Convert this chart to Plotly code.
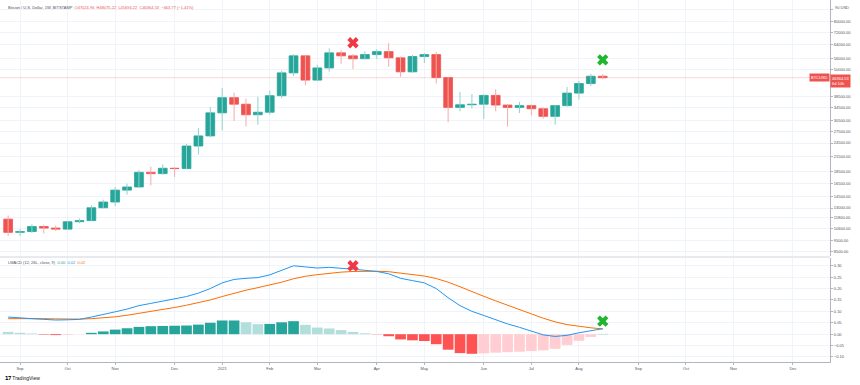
import math
import plotly.graph_objects as go

# ---------------- data ----------------
week_dates = [
    "2020-08-31", "2020-09-07", "2020-09-14", "2020-09-21", "2020-09-28",
    "2020-10-05", "2020-10-12", "2020-10-19", "2020-10-26", "2020-11-02",
    "2020-11-09", "2020-11-16", "2020-11-23", "2020-11-30", "2020-12-07",
    "2020-12-14", "2020-12-21", "2020-12-28", "2021-01-04", "2021-01-11",
    "2021-01-18", "2021-01-25", "2021-02-01", "2021-02-08", "2021-02-15",
    "2021-02-22", "2021-03-01", "2021-03-08", "2021-03-15", "2021-03-22",
    "2021-03-29", "2021-04-05", "2021-04-12", "2021-04-19", "2021-04-26",
    "2021-05-03", "2021-05-10", "2021-05-17", "2021-05-24", "2021-05-31",
    "2021-06-07", "2021-06-14", "2021-06-21", "2021-06-28", "2021-07-05",
    "2021-07-12", "2021-07-19", "2021-07-26", "2021-08-02", "2021-08-09",
    "2021-08-16",
]
opens = [11660, 10250, 10330, 10850, 10690, 10580, 11370, 11500, 13030, 13780,
         15480, 15960, 18410, 18180, 19160, 19100, 23800, 26270, 32900, 38150,
         35800, 32300, 33100, 38900, 48600, 57400, 45300, 51000, 59100, 57400,
         55800, 58100, 59800, 56300, 49100, 57000, 58100, 46400, 34700, 35600,
         35800, 39000, 35500, 34700, 35300, 34250, 31800, 35300, 39900, 43800,
         47024.96]
highs = [12090, 10600, 11100, 11050, 10950, 11490, 11720, 13350, 14100, 15960,
         16480, 18800, 19480, 19900, 19420, 24300, 28400, 34800, 42000, 40100,
         37800, 38500, 40900, 49700, 58300, 57500, 52600, 61700, 60600, 58400,
         60000, 61200, 64900, 57000, 57900, 59000, 59500, 46600, 40400, 39500,
         39400, 41400, 35900, 36600, 35700, 34700, 35400, 42300, 44900, 48100,
         48075.22]
lows = [9880, 9880, 10200, 10130, 10380, 10530, 11200, 11390, 12960, 13220,
        14800, 15800, 16200, 18000, 17600, 19000, 21900, 25900, 27700, 30400,
        28800, 29300, 32300, 37900, 47100, 43000, 44900, 49200, 53100, 50400,
        55500, 55700, 51600, 46800, 48700, 53500, 43800, 30000, 33400, 34300,
        31000, 33400, 28800, 32800, 32100, 31100, 29300, 35000, 37500, 42800,
        45694.22]
closes = [10250, 10330, 10850, 10690, 10580, 11370, 11500, 13030, 13780, 15480,
          15960, 18410, 18180, 19160, 19100, 23800, 26270, 32900, 38150, 35800,
          32300, 33100, 38900, 48600, 57400, 45300, 51000, 59100, 57400, 55800,
          58100, 59800, 56300, 49100, 57000, 58100, 46400, 34700, 35600, 35800,
          39000, 35500, 34700, 35300, 34250, 31800, 35300, 39900, 43800, 47028.30,
          46364.53]

macd_line = [0.075, 0.070, 0.068, 0.065, 0.062, 0.063, 0.065, 0.075, 0.085, 0.098,
             0.110, 0.125, 0.135, 0.145, 0.152, 0.165, 0.180, 0.200, 0.225, 0.240,
             0.245, 0.248, 0.260, 0.280, 0.300, 0.295, 0.290, 0.293, 0.290, 0.285,
             0.280, 0.275, 0.265, 0.245, 0.235, 0.225, 0.200, 0.160, 0.125, 0.100,
             0.082, 0.062, 0.045, 0.030, 0.015, -0.003, -0.010, -0.005, 0.006, 0.016,
             0.024]
signal_line = [0.068, 0.069, 0.069, 0.068, 0.067, 0.066, 0.066, 0.068, 0.071, 0.076,
               0.083, 0.091, 0.100, 0.109, 0.117, 0.127, 0.138, 0.150, 0.165, 0.180,
               0.193, 0.204, 0.215, 0.228, 0.243, 0.254, 0.261, 0.268, 0.272, 0.275,
               0.276, 0.276, 0.274, 0.268, 0.262, 0.255, 0.244, 0.228, 0.208, 0.186,
               0.166, 0.146, 0.126, 0.107, 0.089, 0.070, 0.054, 0.042, 0.034, 0.028,
               0.023]
histogram_before_first = 0.013
histogram = [0.010, 0.006, 0.003, -0.002, -0.004, -0.003, 0.000, 0.006, 0.012, 0.020,
             0.026, 0.032, 0.035, 0.036, 0.037, 0.038, 0.042, 0.050, 0.060, 0.060,
             0.052, 0.044, 0.045, 0.052, 0.057, 0.041, 0.029, 0.025, 0.018, 0.010,
             0.004, -0.001, -0.009, -0.023, -0.027, -0.030, -0.044, -0.068, -0.083, -0.086,
             -0.084, -0.081, -0.079, -0.077, -0.074, -0.071, -0.064, -0.047, -0.029, -0.012,
             0.001]

month_tick_dates = ["2020-09-07", "2020-10-05", "2020-11-02", "2020-12-07", "2021-01-04",
                    "2021-02-01", "2021-03-01", "2021-04-05", "2021-05-03", "2021-06-07",
                    "2021-07-05", "2021-08-02", "2021-09-06", "2021-10-04", "2021-11-01",
                    "2021-12-06"]
month_tick_labels = ["Sep", "Oct", "Nov", "Dec", "2021", "Feb", "Mar", "Apr", "May", "Jun",
                     "Jul", "Aug", "Sep", "Oct", "Nov", "Dec"]
price_ticks = [8500, 9500, 10600, 11800, 13000, 14500, 16500, 18500, 21500, 24500,
               27500, 30500, 34500, 38500, 50000, 56000, 64000, 72000, 80000, 90000]
macd_ticks = [-0.10, -0.05, 0.00, 0.05, 0.10, 0.15, 0.20, 0.25, 0.30]

sell_signal_date = ["2021-03-22"]
sell_signal_price = [65200]
sell_signal_macd = [0.300]
buy_signal_date = ["2021-08-16"]
buy_signal_price = [55200]
buy_signal_macd = [0.057]

header_symbol = "Bitcoin / U.S. Dollar, 1W, BITSTAMP"
header_ohlc = "O47024.96  H48075.22  L45694.22  C46364.53  −663.77 (−1.41%)"

# ---------------- styling ----------------
UP = "#26a69a"
DOWN = "#ef5350"
UP_WICK = "#8fd3cb"
DOWN_WICK = "#f7aaa8"
GRID = "#f0f3fa"
AXIS = "#b2b5be"
TXT = "#131722"
LBL = "#50535e"
FONT = "Liberation Sans, Arial, sans-serif"
W, H = 860, 385
PLOT_H = 362
PLOT_W = 830
WEEK_MS = 7 * 24 * 3600 * 1000


def fmt_minus(v, nd):
    return f"{v:.{nd}f}".replace("-", "−")


is_up = [c >= o for o, c in zip(opens, closes)]

# wick polylines built from the OHLC arrays
wx_up, wy_up, wx_dn, wy_dn = [], [], [], []
for d, hi, lo, up in zip(week_dates, highs, lows, is_up):
    if up:
        wx_up += [d, d, None]
        wy_up += [lo, hi, None]
    else:
        wx_dn += [d, d, None]
        wy_dn += [lo, hi, None]

body_base = [min(o, c) for o, c in zip(opens, closes)]
body_len = [abs(c - o) for o, c in zip(opens, closes)]
body_col = [UP if u else DOWN for u in is_up]

hist_colors = []
for i, h in enumerate(histogram):
    prev = histogram[i - 1] if i > 0 else histogram_before_first
    if h >= 0:
        hist_colors.append("#26a69a" if h >= prev else "#b2dfdb")
    else:
        hist_colors.append("#ffcdd2" if h > prev else "#ff5252")

fig = go.Figure()

# last price line
fig.add_trace(go.Scatter(
    x=["2020-08-20", "2021-12-31"], y=[closes[-1], closes[-1]],
    mode="lines", line=dict(color="rgba(239,83,80,0.22)", width=1),
    xaxis="x", yaxis="y", showlegend=False, hoverinfo="skip"))

fig.add_trace(go.Scatter(x=wx_up, y=wy_up, mode="lines", line=dict(color=UP_WICK, width=1),
                         xaxis="x", yaxis="y", showlegend=False, hoverinfo="skip"))
fig.add_trace(go.Scatter(x=wx_dn, y=wy_dn, mode="lines", line=dict(color=DOWN_WICK, width=1),
                         xaxis="x", yaxis="y", showlegend=False, hoverinfo="skip"))
fig.add_trace(go.Bar(
    x=week_dates, y=body_len, base=body_base, width=WEEK_MS * 0.74,
    marker=dict(color=body_col, line=dict(color=body_col, width=0.8)),
    xaxis="x", yaxis="y", showlegend=False, hoverinfo="skip"))

fig.add_trace(go.Scatter(
    x=sell_signal_date, y=sell_signal_price, mode="markers",
    marker=dict(symbol="x", size=10, color="#f23645", line=dict(width=0)),
    xaxis="x", yaxis="y", showlegend=False, hoverinfo="skip"))
fig.add_trace(go.Scatter(
    x=buy_signal_date, y=buy_signal_price, mode="markers",
    marker=dict(symbol="x", size=10, color="#22b530", line=dict(width=0)),
    xaxis="x", yaxis="y", showlegend=False, hoverinfo="skip"))

# MACD pane
fig.add_trace(go.Bar(
    x=week_dates, y=histogram, width=WEEK_MS * 0.9,
    marker=dict(color=hist_colors, line=dict(width=0)),
    xaxis="x", yaxis="y2", showlegend=False, hoverinfo="skip"))
fig.add_trace(go.Scatter(
    x=week_dates, y=signal_line, mode="lines", line=dict(color="#ff6d00", width=1),
    xaxis="x", yaxis="y2", showlegend=False, hoverinfo="skip"))
fig.add_trace(go.Scatter(
    x=week_dates, y=macd_line, mode="lines", line=dict(color="#2196f3", width=1),
    xaxis="x", yaxis="y2", showlegend=False, hoverinfo="skip"))
fig.add_trace(go.Scatter(
    x=sell_signal_date, y=sell_signal_macd, mode="markers",
    marker=dict(symbol="x", size=10, color="#f23645", line=dict(width=0)),
    xaxis="x", yaxis="y2", showlegend=False, hoverinfo="skip"))
fig.add_trace(go.Scatter(
    x=buy_signal_date, y=buy_signal_macd, mode="markers",
    marker=dict(symbol="x", size=10, color="#22b530", line=dict(width=0)),
    xaxis="x", yaxis="y2", showlegend=False, hoverinfo="skip"))

main_dom = [1 - 256 / PLOT_H, 1]
macd_dom = [0, 104 / PLOT_H]

price_ticktext = [f"{v:.2f}" for v in price_ticks]
price_ticktext[-1] = ""  # top label is covered by the currency badge

fig.update_layout(
    width=W, height=H,
    margin=dict(l=0, r=W - PLOT_W, t=0, b=H - PLOT_H),
    paper_bgcolor="white", plot_bgcolor="white",
    font=dict(family=FONT, size=4, color=TXT),
    barmode="overlay",
    xaxis=dict(
        type="date", domain=[0, 1], anchor="y2",
        range=["2020-08-26 05:00", "2021-12-27 19:00"],
        tickvals=month_tick_dates, ticktext=month_tick_labels,
        tickfont=dict(size=4, color=LBL),
        ticks="outside", ticklen=2, tickcolor=AXIS,
        showgrid=True, gridcolor=GRID, gridwidth=1,
        showline=True, linecolor=AXIS, linewidth=1,
        zeroline=False, fixedrange=True,
    ),
    yaxis=dict(
        type="log", domain=main_dom, anchor="x", side="right",
        range=[3.9105, 4.9955],
        tickvals=price_ticks, ticktext=price_ticktext,
        tickfont=dict(size=4, color=LBL),
        ticks="outside", ticklen=2, tickcolor=AXIS,
        showgrid=True, gridcolor=GRID, gridwidth=1,
        showline=True, linecolor=AXIS, linewidth=1, zeroline=False,
    ),
    yaxis2=dict(
        domain=macd_dom, anchor="x", side="right",
        range=[-0.122, 0.334],
        tickvals=macd_ticks, ticktext=[fmt_minus(v, 2) for v in macd_ticks],
        tickfont=dict(size=4, color=LBL),
        ticks="outside", ticklen=2, tickcolor=AXIS,
        showgrid=True, gridcolor=GRID, gridwidth=1,
        showline=True, linecolor=AXIS, linewidth=1, zeroline=False,
    ),
)

# pane separator
fig.add_shape(type="line", xref="paper", yref="paper",
              x0=0, x1=1, y0=1 - 257 / PLOT_H, y1=1 - 257 / PLOT_H,
              line=dict(color="#d1d4dc", width=1))


def py(p):
    return 1 - p / PLOT_H


ann = []
ann.append(dict(xref="paper", yref="paper", x=6 / PLOT_W, y=py(8), xanchor="left", yanchor="middle",
                text=f"<span style='color:{LBL}'>{header_symbol}</span>  "
                     f"<span style='color:{DOWN}'>{header_ohlc}</span>",
                showarrow=False, font=dict(size=4)))
ann.append(dict(xref="paper", yref="paper", x=6 / PLOT_W, y=py(262), xanchor="left", yanchor="middle",
                text=f"<span style='color:{LBL}'>LMACD (12, 26L, close, 9)</span>  "
                     f"<span style='color:{UP}'>{histogram[-1]:.2f}</span>  "
                     f"<span style='color:#2196f3'>{macd_line[-1]:.2f}</span>  "
                     f"<span style='color:#ff6d00'>{signal_line[-1]:.2f}</span>",
                showarrow=False, font=dict(size=4)))
ann.append(dict(xref="paper", yref="paper", x=3 / PLOT_W, y=py(378), xanchor="left", yanchor="middle",
                text="<b>𝟭𝟳</b> TradingView", showarrow=False, font=dict(size=5, color=TXT)))
# last price labels
ann.append(dict(xref="paper", yref="y", x=1.0, y=math.log10(closes[-1]), xanchor="right", yanchor="middle",
                text="BTCUSD", showarrow=False, bgcolor=DOWN, borderpad=1,
                font=dict(size=4, color="white")))
ann.append(dict(xref="paper", yref="y", x=1.0, y=math.log10(closes[-1]), xanchor="left", yanchor="top",
                yshift=4, text=f"{closes[-1]:.2f}<br>6d 10h", showarrow=False, bgcolor=DOWN, borderpad=1,
                font=dict(size=4, color="white"), align="left"))
ann.append(dict(xref="paper", yref="paper", x=(PLOT_W + 3) / PLOT_W, y=py(8), xanchor="left", yanchor="middle",
                text="90 <span style='color:#50535e'>USD</span>", showarrow=False,
                font=dict(size=4, color=LBL)))
fig.update_layout(annotations=ann)

fig.write_html("out.html",
               config={"displayModeBar": False, "staticPlot": True},
               post_script="document.body.style.margin='0px';document.body.style.overflow='hidden';")
